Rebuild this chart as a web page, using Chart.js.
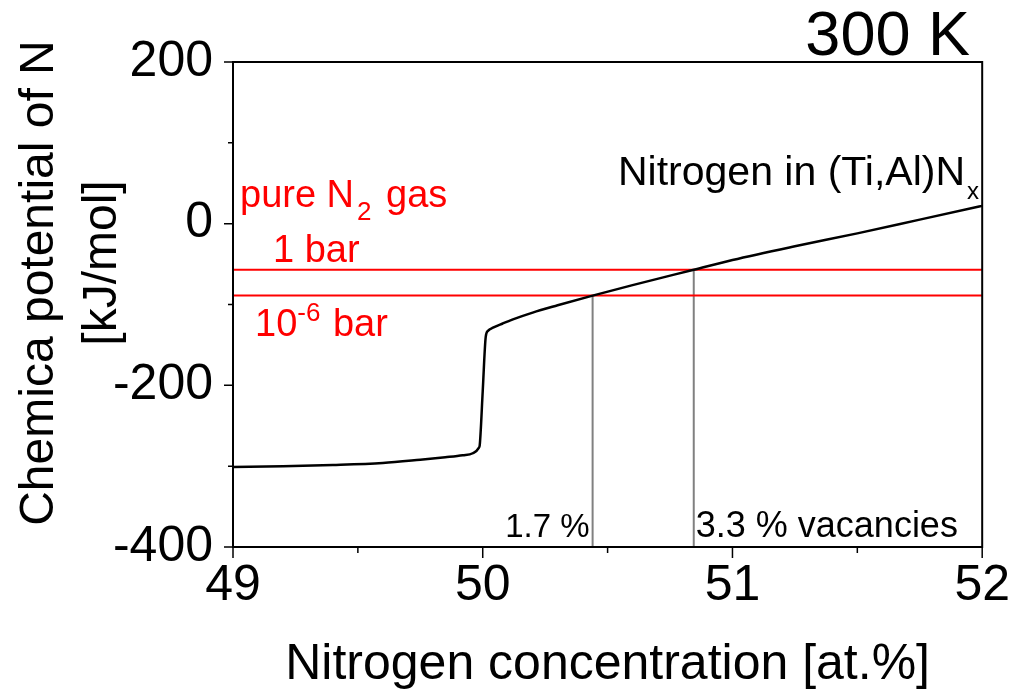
<!DOCTYPE html>
<html>
<head>
<meta charset="utf-8">
<script src="https://cdn.jsdelivr.net/npm/chart.js@4.4.1/dist/chart.umd.min.js"></script>
<style>
  html, body { margin: 0; padding: 0; background: #fff; }
</style>
</head>
<body>
<canvas id="potentialChart" width="1019" height="699"></canvas>
<script>
// Nitrogen concentration [at.%] and chemical potential of N [kJ/mol]
const concentration = [49.0, 49.2, 49.4, 49.6, 49.75, 49.85, 49.92, 49.96, 49.985, 49.988, 50.0, 50.012,
  50.021, 50.041, 50.08, 50.121, 50.2, 50.3, 50.44, 50.6, 50.845, 51.0, 51.25, 51.5, 51.75, 52.0];
const potential = [-301, -300, -298.5, -296, -292, -289, -286.5, -284, -277, -274, -207, -140,
  -132.6, -128.7, -123.5, -118.4, -110, -101, -89, -76, -57, -45, -28, -12, 5, 22];

// pure N2 gas reference levels
const gasLevels = [-57, -89];          // 1 bar, 10^-6 bar
// concentrations where the curve meets them (vacancy markers)
const vacancyConc = [50.845, 50.44];   // 3.3 %, 1.7 %

// axis ticks
const xTicks = [49, 50, 51, 52];
const xMinorTicks = [49.5, 50.5, 51.5];
const yTicks = [-400, -200, 0, 200];
const yMinorTicks = [-300, -100, 100];

const FONT = "'Liberation Sans', Arial, sans-serif";
const RED = '#ff0000';

// Draws the frame, tick marks, y title and the annotations
const decorations = {
  id: 'decorations',
  afterDatasetsDraw(chart) {
    const { ctx, chartArea: a, scales: { x, y } } = chart;
    ctx.save();

    // frame
    ctx.strokeStyle = '#000';
    ctx.lineWidth = 2;
    ctx.strokeRect(a.left, a.top, a.right - a.left, a.bottom - a.top);

    // tick marks, pointing outwards
    ctx.lineWidth = 1.5;
    ctx.beginPath();
    xTicks.forEach(v => { const p = x.getPixelForValue(v); ctx.moveTo(p, a.bottom); ctx.lineTo(p, a.bottom + 11); });
    xMinorTicks.forEach(v => { const p = x.getPixelForValue(v); ctx.moveTo(p, a.bottom); ctx.lineTo(p, a.bottom + 6); });
    yTicks.forEach(v => { const p = y.getPixelForValue(v); ctx.moveTo(a.left, p); ctx.lineTo(a.left - 9, p); });
    yMinorTicks.forEach(v => { const p = y.getPixelForValue(v); ctx.moveTo(a.left, p); ctx.lineTo(a.left - 5, p); });
    ctx.stroke();

    ctx.fillStyle = '#000';
    ctx.textBaseline = 'alphabetic';

    // y axis title, two lines
    ctx.save();
    ctx.font = `48px ${FONT}`;
    ctx.textAlign = 'center';
    ctx.translate(53, 283);
    ctx.rotate(-Math.PI / 2);
    ctx.fillText('Chemica potential of N', 0, 0);
    ctx.restore();
    ctx.save();
    ctx.font = `48px ${FONT}`;
    ctx.textAlign = 'center';
    ctx.translate(116, 263);
    ctx.rotate(-Math.PI / 2);
    ctx.fillText('[kJ/mol]', 0, 0);
    ctx.restore();

    // temperature
    ctx.font = `63px ${FONT}`;
    ctx.textAlign = 'right';
    ctx.fillText('300 K', 970, 55);

    // curve label
    ctx.textAlign = 'left';
    ctx.font = `41px ${FONT}`;
    const curveLabel = 'Nitrogen in (Ti,Al)N';
    ctx.fillText(curveLabel, 618, 185);
    const clw = ctx.measureText(curveLabel).width;
    ctx.font = `24px ${FONT}`;
    ctx.fillText('x', 618 + clw + 2, 199);

    // vacancy labels
    const v1 = x.getPixelForValue(vacancyConc[1]);
    const v2 = x.getPixelForValue(vacancyConc[0]);
    ctx.font = `33px ${FONT}`;
    ctx.textAlign = 'right';
    ctx.fillText('1.7 %', v1 - 3, 537);
    ctx.font = `36px ${FONT}`;
    ctx.textAlign = 'left';
    ctx.fillText('3.3 % vacancies', v2 + 2, 537);

    // gas labels
    ctx.fillStyle = RED;
    ctx.font = `38px ${FONT}`;
    ctx.fillText('pure N', 240, 207);
    let px = 240 + ctx.measureText('pure N').width + 3;
    ctx.font = `26px ${FONT}`;
    ctx.fillText('2', px, 220);
    px += ctx.measureText('2').width;
    ctx.font = `38px ${FONT}`;
    ctx.fillText(' gas', px + 4, 207);

    ctx.fillText('1 bar', 273, 262);

    ctx.fillText('10', 255, 336);
    px = 255 + ctx.measureText('10').width;
    ctx.font = `26px ${FONT}`;
    ctx.fillText('-6', px, 321);
    px += ctx.measureText('-6').width;
    ctx.font = `38px ${FONT}`;
    ctx.fillText(' bar', px + 2, 336);

    ctx.restore();
  }
};

const ctx = document.getElementById('potentialChart').getContext('2d');

new Chart(ctx, {
  type: 'line',
  data: {
    datasets: [
      {
        label: 'Nitrogen in (Ti,Al)Nx',
        data: concentration.map((c, i) => ({ x: c, y: potential[i] })),
        borderColor: '#000',
        borderWidth: 2.5,
        pointRadius: 0,
        cubicInterpolationMode: 'monotone',
        order: 0
      },
      {
        label: '1 bar',
        data: [{ x: 49, y: gasLevels[0] }, { x: 52, y: gasLevels[0] }],
        borderColor: RED,
        borderWidth: 2,
        pointRadius: 0,
        order: 1
      },
      {
        label: '10^-6 bar',
        data: [{ x: 49, y: gasLevels[1] }, { x: 52, y: gasLevels[1] }],
        borderColor: RED,
        borderWidth: 2,
        pointRadius: 0,
        order: 1
      },
      {
        label: '3.3 %',
        data: [{ x: vacancyConc[0], y: -400 }, { x: vacancyConc[0], y: gasLevels[0] }],
        borderColor: '#808080',
        borderWidth: 2,
        pointRadius: 0,
        order: 2
      },
      {
        label: '1.7 %',
        data: [{ x: vacancyConc[1], y: -400 }, { x: vacancyConc[1], y: gasLevels[1] }],
        borderColor: '#808080',
        borderWidth: 2,
        pointRadius: 0,
        order: 2
      }
    ]
  },
  options: {
    responsive: false,
    animation: false,
    layout: { padding: { top: 62, right: 36, left: 0, bottom: 0 } },
    plugins: {
      legend: { display: false },
      tooltip: { enabled: false }
    },
    scales: {
      x: {
        type: 'linear',
        min: 49,
        max: 52,
        afterBuildTicks: s => { s.ticks = xTicks.map(v => ({ value: v })); },
        afterFit: s => { s.height = 152; },
        grid: { display: false, drawTicks: false },
        border: { display: false },
        ticks: {
          color: '#000',
          padding: 9,
          maxRotation: 0,
          font: { family: FONT, size: 50 }
        },
        title: {
          display: true,
          text: 'Nitrogen concentration [at.%]',
          color: '#000',
          font: { family: FONT, size: 50 },
          padding: { top: 0, bottom: 4 }
        }
      },
      y: {
        type: 'linear',
        min: -400,
        max: 200,
        afterBuildTicks: s => { s.ticks = yTicks.map(v => ({ value: v })); },
        afterFit: s => { s.width = 233; },
        grid: { display: false, drawTicks: false },
        border: { display: false },
        ticks: {
          color: '#000',
          padding: 20,
          font: { family: FONT, size: 50 }
        }
      }
    }
  },
  plugins: [decorations]
});
</script>
</body>
</html>
